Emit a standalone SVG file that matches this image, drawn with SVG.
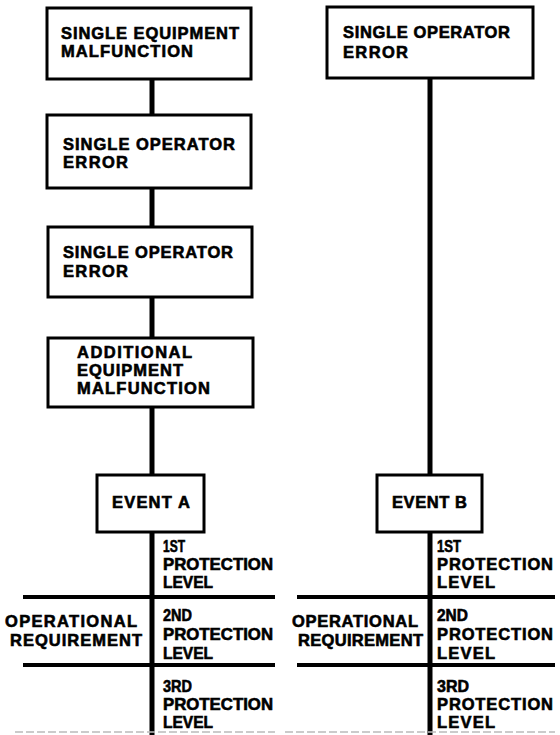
<svg xmlns="http://www.w3.org/2000/svg" width="560" height="735" viewBox="0 0 560 735">
<style>
.box{fill:#fff;stroke:#000;stroke-width:3}
.t{font-family:"Liberation Sans",Arial,sans-serif;font-weight:bold;font-size:16.5px;fill:#000;stroke:#000;stroke-width:0.6}
.c{stroke:#000;stroke-width:5;fill:none}
.h{stroke:#000;stroke-width:4;fill:none}
.f{stroke:#bbb;stroke-width:1.5;stroke-dasharray:8 3;fill:none}
</style>
<rect width="560" height="735" fill="#fff"/>
<g id="connectors">
<line class="c" x1="152" y1="79" x2="152" y2="115"/>
<line class="c" x1="152" y1="188" x2="152" y2="227"/>
<line class="c" x1="152" y1="297" x2="152" y2="338"/>
<line class="c" x1="152" y1="407" x2="152" y2="475"/>
<line class="c" x1="152" y1="532" x2="152" y2="735"/>
<line class="c" x1="430" y1="78" x2="430" y2="475"/>
<line class="c" x1="430" y1="532" x2="430" y2="735"/>
<line class="h" x1="23" y1="597" x2="275" y2="597"/>
<line class="h" x1="23" y1="665" x2="275" y2="665"/>
<line class="h" x1="297" y1="597" x2="555" y2="597"/>
<line class="h" x1="297" y1="665" x2="555" y2="665"/>
<line class="f" x1="15" y1="732" x2="275" y2="732"/>
<line class="f" x1="285" y1="732" x2="555" y2="732"/>
</g>
<g id="n1">
<rect class="box" x="47" y="8" width="204" height="71"/>
<text class="t" x="61" y="39" textLength="178" lengthAdjust="spacing">SINGLE EQUIPMENT</text>
<text class="t" x="61" y="57" textLength="132" lengthAdjust="spacing">MALFUNCTION</text>
</g>
<g id="n2">
<rect class="box" x="47" y="115" width="204" height="73"/>
<text class="t" x="63" y="150" textLength="172" lengthAdjust="spacing">SINGLE OPERATOR</text>
<text class="t" x="63" y="168" textLength="65" lengthAdjust="spacing">ERROR</text>
</g>
<g id="n3">
<rect class="box" x="48" y="227" width="204" height="70"/>
<text class="t" x="63" y="258" textLength="170" lengthAdjust="spacing">SINGLE OPERATOR</text>
<text class="t" x="63" y="277" textLength="65" lengthAdjust="spacing">ERROR</text>
</g>
<g id="n4">
<rect class="box" x="48" y="338" width="205" height="69"/>
<text class="t" x="77" y="358" textLength="115" lengthAdjust="spacing">ADDITIONAL</text>
<text class="t" x="77" y="376" textLength="106" lengthAdjust="spacing">EQUIPMENT</text>
<text class="t" x="77" y="394" textLength="133" lengthAdjust="spacing">MALFUNCTION</text>
</g>
<g id="eventA">
<rect class="box" x="97" y="475" width="107" height="57"/>
<text class="t" x="112" y="508" textLength="78" lengthAdjust="spacing">EVENT A</text>
</g>
<g id="levelsA">
<text class="t" x="163" y="552" textLength="22" lengthAdjust="spacingAndGlyphs">1ST</text>
<text class="t" x="163" y="570" textLength="110" lengthAdjust="spacingAndGlyphs">PROTECTION</text>
<text class="t" x="163" y="588" textLength="50" lengthAdjust="spacingAndGlyphs">LEVEL</text>
<text class="t" x="163" y="621" textLength="29" lengthAdjust="spacingAndGlyphs">2ND</text>
<text class="t" x="163" y="640" textLength="110" lengthAdjust="spacingAndGlyphs">PROTECTION</text>
<text class="t" x="163" y="659" textLength="50" lengthAdjust="spacingAndGlyphs">LEVEL</text>
<text class="t" x="163" y="692" textLength="29" lengthAdjust="spacingAndGlyphs">3RD</text>
<text class="t" x="163" y="710" textLength="110" lengthAdjust="spacingAndGlyphs">PROTECTION</text>
<text class="t" x="163" y="728" textLength="50" lengthAdjust="spacingAndGlyphs">LEVEL</text>
<text class="t" x="5" y="627" textLength="132" lengthAdjust="spacing">OPERATIONAL</text>
<text class="t" x="10" y="646" textLength="132" lengthAdjust="spacing">REQUIREMENT</text>
</g>
<g id="r1">
<rect class="box" x="327" y="7" width="206" height="71"/>
<text class="t" x="343" y="38" textLength="167" lengthAdjust="spacing">SINGLE OPERATOR</text>
<text class="t" x="343" y="58" textLength="65" lengthAdjust="spacing">ERROR</text>
</g>
<g id="eventB">
<rect class="box" x="377" y="475" width="105" height="57"/>
<text class="t" x="392" y="508" textLength="75" lengthAdjust="spacing">EVENT B</text>
</g>
<g id="levelsB">
<text class="t" x="437" y="552" textLength="24" lengthAdjust="spacingAndGlyphs">1ST</text>
<text class="t" x="437" y="570" textLength="116" lengthAdjust="spacing">PROTECTION</text>
<text class="t" x="437" y="588" textLength="58" lengthAdjust="spacing">LEVEL</text>
<text class="t" x="437" y="621" textLength="31" lengthAdjust="spacingAndGlyphs">2ND</text>
<text class="t" x="437" y="640" textLength="116" lengthAdjust="spacing">PROTECTION</text>
<text class="t" x="437" y="659" textLength="58" lengthAdjust="spacing">LEVEL</text>
<text class="t" x="437" y="692" textLength="32" lengthAdjust="spacingAndGlyphs">3RD</text>
<text class="t" x="437" y="710" textLength="116" lengthAdjust="spacing">PROTECTION</text>
<text class="t" x="437" y="728" textLength="58" lengthAdjust="spacing">LEVEL</text>
<text class="t" x="292" y="627" textLength="126" lengthAdjust="spacing">OPERATIONAL</text>
<text class="t" x="298" y="646" textLength="125" lengthAdjust="spacing">REQUIREMENT</text>
</g>
</svg>
